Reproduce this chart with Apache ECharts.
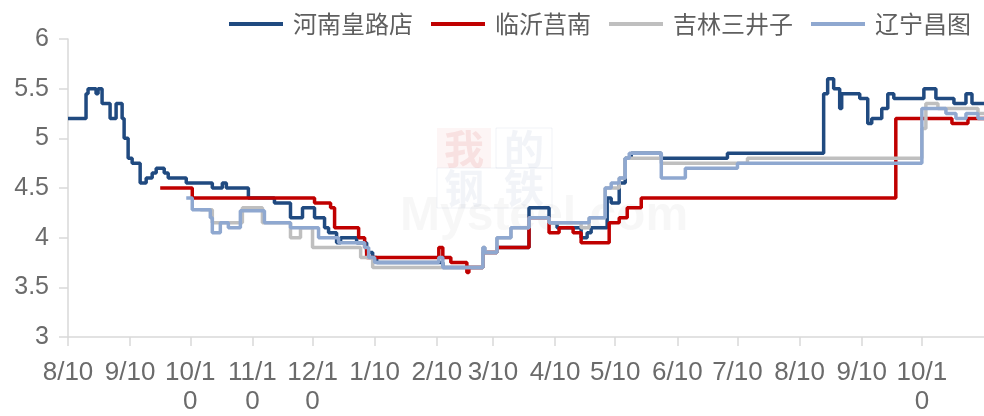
<!DOCTYPE html>
<html>
<head>
<meta charset="utf-8">
<script src="https://cdn.jsdelivr.net/npm/echarts@6/dist/echarts.min.js"></script>
<style>
  html, body { margin: 0; padding: 0; background: #ffffff; }
  #chart { width: 984px; height: 416px; }
</style>
</head>
<body>
<div id="chart"></div>
<script>
// Monthly tick dates on the date axis
const tickDates = [
  '2022-08-10', '2022-09-10', '2022-10-10', '2022-11-10', '2022-12-10',
  '2023-01-10', '2023-02-10', '2023-03-10', '2023-04-10', '2023-05-10',
  '2023-06-10', '2023-07-10', '2023-08-10', '2023-09-10', '2023-10-10'
];
const axisStart = '2022-08-10';
const axisEnd = '2023-11-10';

const seriesNames = ['河南皇路店', '临沂莒南', '吉林三井子', '辽宁昌图'];

// Each series: dates where the price changes, and the price from that date on
const henanDates = [
  '2022-08-10', '2022-08-19', '2022-08-20', '2022-08-24', '2022-08-25', '2022-08-27',
  '2022-08-31', '2022-09-03', '2022-09-06', '2022-09-07', '2022-09-09', '2022-09-11',
  '2022-09-15', '2022-09-18', '2022-09-21', '2022-09-23', '2022-09-27', '2022-09-29',
  '2022-10-08', '2022-10-21', '2022-10-26', '2022-10-28', '2022-11-08', '2022-11-21',
  '2022-11-29', '2022-12-05', '2022-12-11', '2022-12-16', '2022-12-18', '2022-12-22',
  '2022-12-24', '2023-01-01', '2023-01-06', '2023-01-09', '2023-01-11', '2023-02-13',
  '2023-03-05', '2023-03-12', '2023-03-28', '2023-04-07', '2023-04-11', '2023-04-23',
  '2023-04-26', '2023-04-28', '2023-05-06', '2023-05-08', '2023-05-12', '2023-05-15',
  '2023-05-18', '2023-06-02', '2023-07-05', '2023-08-22', '2023-08-24', '2023-08-27',
  '2023-08-30', '2023-08-31', '2023-09-09', '2023-09-13', '2023-09-15', '2023-09-20',
  '2023-09-23', '2023-09-26', '2023-10-11', '2023-10-17', '2023-10-26', '2023-11-01',
  '2023-11-04', '2023-11-10'
];
const henanValues = [
  5.2, 5.45, 5.5, 5.45, 5.5, 5.35,
  5.2, 5.35, 5.2, 5.0, 4.8, 4.75,
  4.55, 4.6, 4.65, 4.7, 4.65, 4.6,
  4.55, 4.5, 4.55, 4.5, 4.4, 4.35,
  4.2, 4.3, 4.2, 4.1, 4.05, 3.95,
  4.0, 3.95, 3.85, 3.8, 3.75, 3.7,
  3.85, 3.9, 4.3, 4.15, 4.1, 4.0,
  4.05, 4.1, 4.4, 4.35, 4.55, 4.8,
  4.85, 4.8, 4.85, 5.45, 5.6, 5.5,
  5.3, 5.45, 5.4, 5.15, 5.2, 5.3,
  5.45, 5.4, 5.5, 5.4, 5.35, 5.45,
  5.35, 5.35
];

const linyiDates = [
  '2022-09-25', '2022-10-11', '2022-12-11', '2022-12-19', '2022-12-21', '2023-01-02',
  '2023-01-05', '2023-01-06', '2023-02-11', '2023-02-13', '2023-02-17', '2023-02-25',
  '2023-02-26', '2023-03-05', '2023-03-12', '2023-03-28', '2023-04-07', '2023-04-12',
  '2023-04-19', '2023-04-23', '2023-05-07', '2023-05-12', '2023-05-16', '2023-05-23',
  '2023-09-27', '2023-10-25', '2023-11-02', '2023-11-10'
];
const linyiValues = [
  4.5, 4.4, 4.35, 4.3, 4.1, 4.0,
  3.9, 3.8, 3.9, 3.8, 3.75, 3.65,
  3.7, 3.85, 3.9, 4.2, 4.05, 4.1,
  4.05, 3.95, 4.15, 4.2, 4.3, 4.4,
  5.2, 5.15, 5.2, 5.2
];

const jilinDates = [
  '2022-10-15', '2022-10-21', '2022-11-05', '2022-11-15', '2022-11-29', '2022-12-04',
  '2022-12-10', '2023-01-03', '2023-01-09', '2023-03-05', '2023-03-06', '2023-03-12',
  '2023-03-19', '2023-03-28', '2023-04-07', '2023-04-23', '2023-04-27', '2023-05-05',
  '2023-05-12', '2023-05-15', '2023-06-02', '2023-07-15', '2023-10-10', '2023-10-12',
  '2023-10-18', '2023-11-07', '2023-11-10'
];
const jilinValues = [
  4.28, 4.15, 4.3, 4.15, 4.0, 4.1,
  3.9, 3.8, 3.7, 3.9, 3.85, 4.0,
  4.1, 4.2, 4.15, 4.1, 4.2, 4.5,
  4.6, 4.8, 4.75, 4.8, 5.1, 5.35,
  5.3, 5.25, 5.25
];

const liaoningDates = [
  '2022-10-08', '2022-10-11', '2022-10-20', '2022-10-21', '2022-10-25', '2022-10-29',
  '2022-11-04', '2022-11-16', '2022-11-29', '2022-12-13', '2022-12-23', '2023-01-05',
  '2023-01-07', '2023-01-10', '2023-02-11', '2023-02-13', '2023-03-05', '2023-03-06',
  '2023-03-12', '2023-03-19', '2023-03-28', '2023-04-07', '2023-04-27', '2023-05-05',
  '2023-05-08', '2023-05-12', '2023-05-15', '2023-05-17', '2023-06-02', '2023-06-14',
  '2023-07-10', '2023-10-10', '2023-10-22', '2023-10-27', '2023-11-01', '2023-11-07',
  '2023-11-10'
];
const liaoningValues = [
  4.4, 4.28, 4.2, 4.05, 4.15, 4.1,
  4.27, 4.15, 4.1, 4.0, 3.95, 3.9,
  3.8, 3.75, 3.8, 3.7, 3.9, 3.85,
  4.0, 4.1, 4.2, 4.15, 4.2, 4.5,
  4.55, 4.6, 4.8, 4.85, 4.6, 4.7,
  4.75, 5.3, 5.25, 5.2, 5.25, 5.2,
  5.2
];

const lineColors = ['#204a80', '#c00000', '#bfbfbf', '#8fa8d0'];

// Parse 'YYYY-MM-DD' as a local date
function toTime(s) {
  const p = s.split('-').map(Number);
  return new Date(p[0], p[1] - 1, p[2]).getTime();
}
function pairs(dates, values) {
  return dates.map((d, i) => [toTime(d), values[i]]);
}

const tickTimes = tickDates.map(toTime);
const labelFont = "'Liberation Sans', Arial, sans-serif";
const cjkFont = "'Noto Sans CJK SC', sans-serif";

const chart = echarts.init(document.getElementById('chart'), null, { renderer: 'canvas' });

const dataSets = [
  pairs(henanDates, henanValues),
  pairs(linyiDates, linyiValues),
  pairs(jilinDates, jilinValues),
  pairs(liaoningDates, liaoningValues)
];

// Faint site mark behind the plot
const markBlue = 'rgba(90,115,170,0.08)';
const markRed = 'rgba(215,80,80,0.12)';

chart.setOption({
  animation: false,
  backgroundColor: '#ffffff',
  grid: { left: 68, right: 0, top: 39, bottom: 76, containLabel: false },
  legend: {
    right: 8,
    top: 7,
    icon: 'rect',
    itemWidth: 54,
    itemHeight: 4,
    itemGap: 18,
    textStyle: {
      fontFamily: cjkFont,
      fontSize: 24,
      color: '#5f5f5f',
      padding: [0, 0, 0, 5]
    },
    data: seriesNames
  },
  graphic: [
    {
      type: 'group', silent: true, z: 0,
      children: [
        { type: 'rect', shape: { x: 437, y: 128, width: 54, height: 40 }, style: { fill: 'rgba(215,80,80,0.06)' } },
        { type: 'rect', shape: { x: 496, y: 128, width: 56, height: 40 }, style: { fill: 'none', stroke: markBlue, lineWidth: 1 } },
        { type: 'rect', shape: { x: 437, y: 168, width: 115, height: 40 }, style: { fill: 'none', stroke: markBlue, lineWidth: 1 } },
        { type: 'text', x: 444, y: 129, style: { text: '我', fontSize: 40, fontWeight: 'bold', fill: markRed, fontFamily: cjkFont } },
        { type: 'text', x: 504, y: 129, style: { text: '的', fontSize: 40, fontWeight: 'bold', fill: markBlue, fontFamily: cjkFont } },
        { type: 'text', x: 444, y: 168, style: { text: '钢', fontSize: 40, fontWeight: 'bold', fill: markBlue, fontFamily: cjkFont } },
        { type: 'text', x: 504, y: 168, style: { text: '铁', fontSize: 40, fontWeight: 'bold', fill: markBlue, fontFamily: cjkFont } },
        { type: 'text', x: 400, y: 193, style: { text: 'Mysteel.com', fontSize: 48, fontWeight: 'bold', fill: 'rgba(120,120,120,0.06)', fontFamily: labelFont } }
      ]
    }
  ],
  xAxis: {
    type: 'value',
    min: toTime(axisStart),
    max: toTime(axisEnd),
    axisLine: { show: true, lineStyle: { color: '#d9d9d9', width: 1.5 } },
    axisTick: { show: true, customValues: tickTimes, length: 9, lineStyle: { color: '#d9d9d9', width: 1.5 } },
    splitLine: { show: false },
    axisLabel: {
      customValues: tickTimes,
      margin: 21,
      fontFamily: labelFont,
      fontSize: 26,
      lineHeight: 29,
      color: '#6b6b6b',
      formatter: function (v) {
        const d = new Date(v);
        const s = (d.getMonth() + 1) + '/' + d.getDate();
        return s.length > 4 ? s.slice(0, 4) + '\n' + s.slice(4) : s;
      }
    }
  },
  yAxis: {
    type: 'value',
    min: 3,
    max: 6,
    interval: 0.5,
    axisLine: { show: true, lineStyle: { color: '#d9d9d9', width: 1.5 } },
    axisTick: { show: true, length: 9, lineStyle: { color: '#d9d9d9', width: 1.5 } },
    splitLine: { show: false },
    axisLabel: {
      margin: 19,
      fontFamily: labelFont,
      fontSize: 25,
      color: '#6b6b6b'
    }
  },
  series: seriesNames.map((name, i) => ({
    name: name,
    type: 'line',
    step: 'end',
    symbol: 'none',
    data: dataSets[i],
    color: lineColors[i],
    lineStyle: { width: 3.5, color: lineColors[i] },
    z: 2 + i
  }))
});
</script>
</body>
</html>
